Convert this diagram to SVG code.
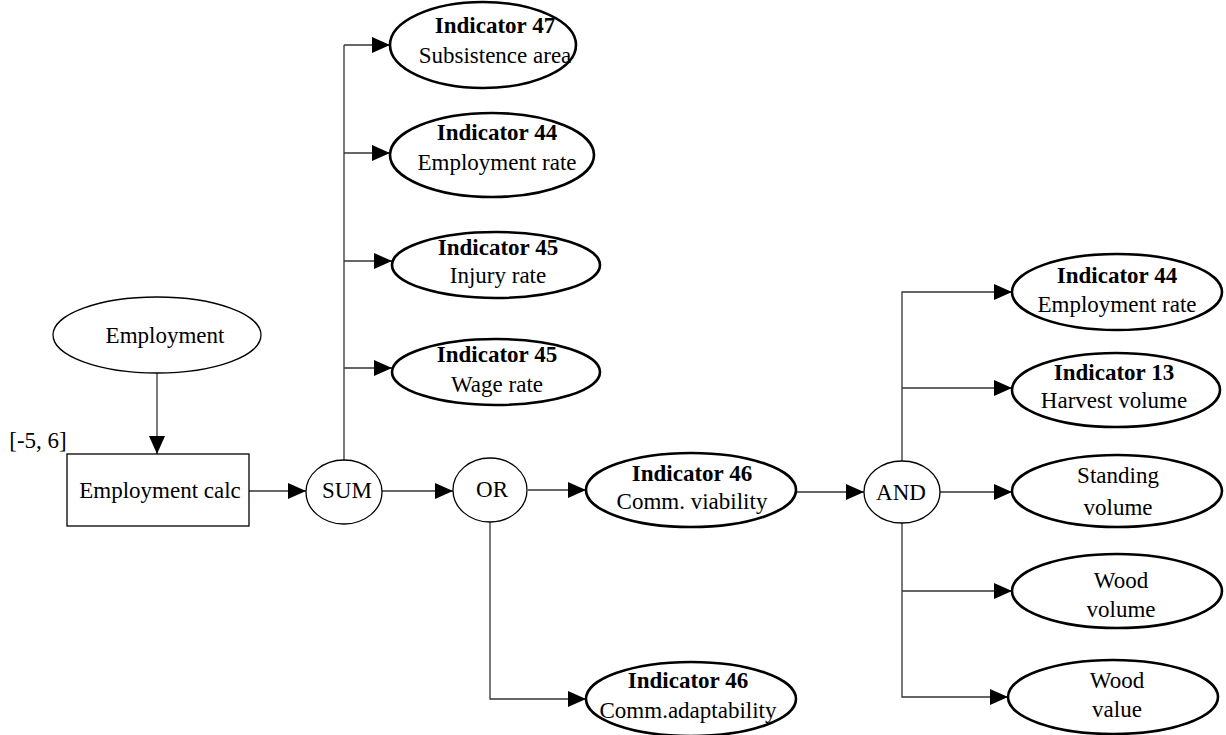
<svg xmlns="http://www.w3.org/2000/svg" width="1226" height="735" viewBox="0 0 1226 735">
<style>
text{font-family:"Liberation Serif","Times New Roman",serif;font-size:23px;fill:#000;text-anchor:middle}
.b{font-weight:bold}
.thin{fill:#fff;stroke:#000;stroke-width:1.3}
.thick{fill:#fff;stroke:#000;stroke-width:2.6}
.c{fill:none;stroke:#333;stroke-width:1.3}
.a{marker-end:url(#ah)}
</style>
<defs>
<marker id="ah" markerUnits="userSpaceOnUse" markerWidth="18" markerHeight="16" viewBox="0 0 18 16" refX="18" refY="8" orient="auto">
<path d="M0,0 L18,8 L0,16 Z" fill="#000"/>
</marker>
</defs>
<rect width="1226" height="735" fill="#fff"/>
<g id="connectors">
<path class="c a" d="M157,373 V454"/>
<path class="c a" d="M249,491 H306"/>
<path class="c" d="M344,460 V45"/>
<path class="c a" d="M344,45 H390"/>
<path class="c a" d="M344,153 H390"/>
<path class="c a" d="M344,261 H392"/>
<path class="c a" d="M344,368 H392"/>
<path class="c a" d="M382,491 H453"/>
<path class="c a" d="M528,490 H586"/>
<path class="c a" d="M490,522 V699 H586"/>
<path class="c a" d="M796,492 H864"/>
<path class="c a" d="M902,462 V292 H1012"/>
<path class="c a" d="M902,388 H1012"/>
<path class="c a" d="M940,492 H1012"/>
<path class="c a" d="M902,523 V697 H1008"/>
<path class="c a" d="M902,591 H1012"/>
</g>
<g id="employment">
<ellipse class="thin" cx="157" cy="335" rx="104" ry="38"/>
<text x="165" y="343">Employment</text>
</g>
<g id="employment-calc">
<rect class="thin" x="67" y="454" width="182" height="72"/>
<text x="160" y="498">Employment calc</text>
</g>
<g id="range-label">
<text x="38" y="448">[-5, 6]</text>
</g>
<g id="sum">
<ellipse class="thin" cx="344" cy="492" rx="38" ry="32"/>
<text x="347" y="498">SUM</text>
</g>
<g id="ind47">
<ellipse class="thick" cx="483" cy="45" rx="93" ry="43"/>
<text class="b" x="495" y="33">Indicator 47</text>
<text x="495" y="63">Subsistence area</text>
</g>
<g id="ind44-left">
<ellipse class="thick" cx="492" cy="155" rx="102" ry="42"/>
<text class="b" x="497" y="140">Indicator 44</text>
<text x="497" y="170">Employment rate</text>
</g>
<g id="ind45-injury">
<ellipse class="thick" cx="496" cy="265" rx="104" ry="33"/>
<text class="b" x="498" y="255">Indicator 45</text>
<text x="498" y="283">Injury rate</text>
</g>
<g id="ind45-wage">
<ellipse class="thick" cx="496" cy="372" rx="104" ry="33"/>
<text class="b" x="497" y="362">Indicator 45</text>
<text x="497" y="392">Wage rate</text>
</g>
<g id="or">
<ellipse class="thin" cx="490" cy="490" rx="37" ry="32"/>
<text x="492" y="497">OR</text>
</g>
<g id="ind46-viability">
<ellipse class="thick" cx="691" cy="490" rx="105" ry="37"/>
<text class="b" x="692" y="481">Indicator 46</text>
<text x="692" y="509">Comm. viability</text>
</g>
<g id="ind46-adaptability">
<ellipse class="thick" cx="691" cy="699" rx="105" ry="37"/>
<text class="b" x="688" y="688">Indicator 46</text>
<text x="688" y="718">Comm.adaptability</text>
</g>
<g id="and">
<ellipse class="thin" cx="902" cy="492" rx="38" ry="31"/>
<text x="901" y="500">AND</text>
</g>
<g id="ind44-right">
<ellipse class="thick" cx="1117" cy="292" rx="105" ry="38"/>
<text class="b" x="1117" y="283">Indicator 44</text>
<text x="1117" y="312">Employment rate</text>
</g>
<g id="ind13">
<ellipse class="thick" cx="1116" cy="390" rx="104" ry="37"/>
<text class="b" x="1114" y="380">Indicator 13</text>
<text x="1114" y="408">Harvest volume</text>
</g>
<g id="standing-volume">
<ellipse class="thick" cx="1117" cy="491" rx="105" ry="36"/>
<text x="1118" y="483">Standing</text>
<text x="1118" y="515">volume</text>
</g>
<g id="wood-volume">
<ellipse class="thick" cx="1117" cy="591" rx="105" ry="37"/>
<text x="1121" y="588">Wood</text>
<text x="1121" y="617">volume</text>
</g>
<g id="wood-value">
<ellipse class="thick" cx="1113" cy="697" rx="105" ry="37"/>
<text x="1117" y="688">Wood</text>
<text x="1117" y="717">value</text>
</g>
</svg>
